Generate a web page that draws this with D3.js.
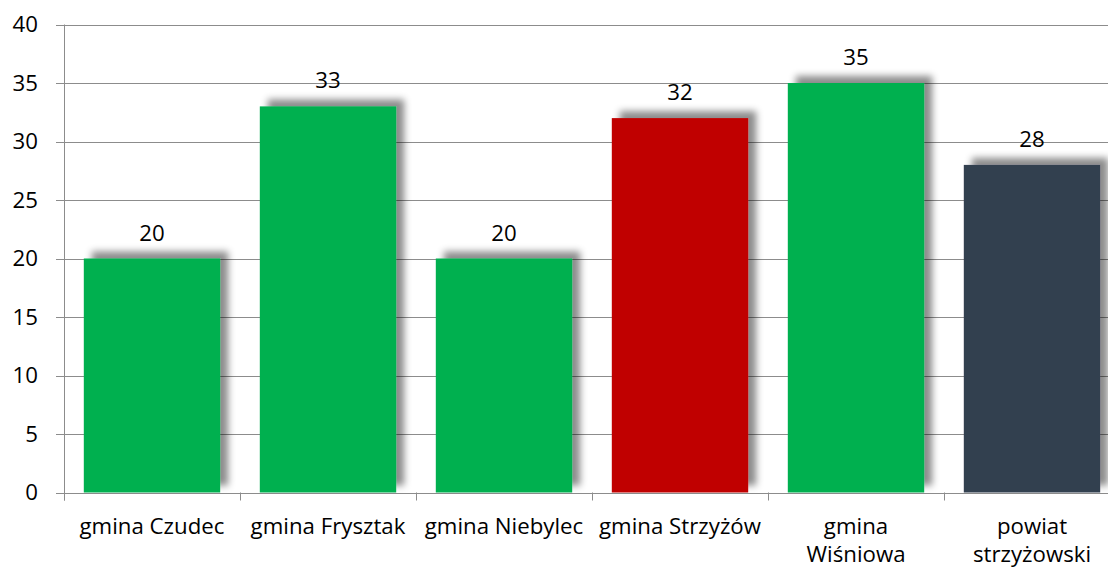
<!DOCTYPE html>
<html><head><meta charset="utf-8">
<script src="https://cdn.jsdelivr.net/npm/d3@7"></script>
<style>
html,body{margin:0;padding:0;background:#fff;}
svg{display:block;font-family:"Open Sans",sans-serif;}
</style></head>
<body>
<svg id="chart" width="1108" height="569"></svg>
<script>
const categories = ["gmina Czudec", "gmina Frysztak", "gmina Niebylec", "gmina Strzyżów", "gmina Wiśniowa", "powiat strzyżowski"];
const labelLines = [["gmina Czudec"], ["gmina Frysztak"], ["gmina Niebylec"], ["gmina Strzyżów"], ["gmina", "Wiśniowa"], ["powiat", "strzyżowski"]];
const values = [20, 33, 20, 32, 35, 28];
const barColors = ["#00B050", "#00B050", "#00B050", "#C00000", "#00B050", "#333F50"];
const yTicks = [0, 5, 10, 15, 20, 25, 30, 35, 40];

const svg = d3.select("#chart");
const x0 = 64, x1 = 1120, yTop = 24.5, yBot = 492.5;
const SX = 1.06; // horizontal text stretch
const FS = 21;

const x = d3.scaleBand().domain(categories).range([x0, x1]).paddingInner(0.225).paddingOuter(0.1125);
const y = d3.scaleLinear().domain([0, 40]).range([yBot, yTop]);

const defs = svg.append("defs");
const f = defs.append("filter").attr("id", "sh").attr("x", "-20%").attr("y", "-20%").attr("width", "140%").attr("height", "140%");
f.append("feDropShadow").attr("dx", 8).attr("dy", -7).attr("stdDeviation", 3.5).attr("flood-color", "#000").attr("flood-opacity", 0.45);

// gridlines
svg.append("g").selectAll("line").data(yTicks).join("line")
  .attr("x1", x0 - 8).attr("x2", 1108)
  .attr("y1", d => Math.round(y(d)) + 0.5).attr("y2", d => Math.round(y(d)) + 0.5)
  .attr("stroke", "#8c8c8c").attr("stroke-width", 1);

// y axis line
svg.append("line").attr("x1", x0 + 0.5).attr("x2", x0 + 0.5).attr("y1", y(40)).attr("y2", yBot + 8)
  .attr("stroke", "#8c8c8c");

// x ticks
const bounds = categories.map((c, i) => x0 + i * x.step()).concat([x0 + categories.length * x.step()]);
svg.append("g").selectAll("line").data(bounds).join("line")
  .attr("x1", d => Math.round(d) + 0.5).attr("x2", d => Math.round(d) + 0.5)
  .attr("y1", yBot).attr("y2", yBot + 8).attr("stroke", "#8c8c8c");

// y labels
svg.append("g").selectAll("text").data(yTicks).join("text")
  .attr("transform", d => `translate(38,${y(d) + 7.5}) scale(${SX},1)`)
  .attr("text-anchor", "end").attr("font-size", FS).attr("fill", "#000")
  .text(d => d);

// bars
svg.append("g").selectAll("rect").data(values).join("rect")
  .attr("x", (d, i) => x(categories[i])).attr("width", x.bandwidth())
  .attr("y", d => y(d)).attr("height", d => yBot - y(d))
  .attr("fill", (d, i) => barColors[i]).attr("filter", "url(#sh)");

// value labels
svg.append("g").selectAll("text").data(values).join("text")
  .attr("transform", (d, i) => `translate(${x(categories[i]) + x.bandwidth() / 2},${y(d) - 18}) scale(${SX},1)`)
  .attr("text-anchor", "middle").attr("font-size", FS).attr("fill", "#000")
  .text(d => d);

// category labels
const cl = svg.append("g").selectAll("text").data(labelLines).join("text")
  .attr("transform", (d, i) => `translate(${x(categories[i]) + x.bandwidth() / 2},534) scale(${SX},1)`)
  .attr("text-anchor", "middle").attr("font-size", FS).attr("fill", "#000");
cl.selectAll("tspan").data(d => d).join("tspan")
  .attr("x", 0).attr("dy", (d, j) => j === 0 ? 0 : 28).text(d => d);
</script>
</body></html>
